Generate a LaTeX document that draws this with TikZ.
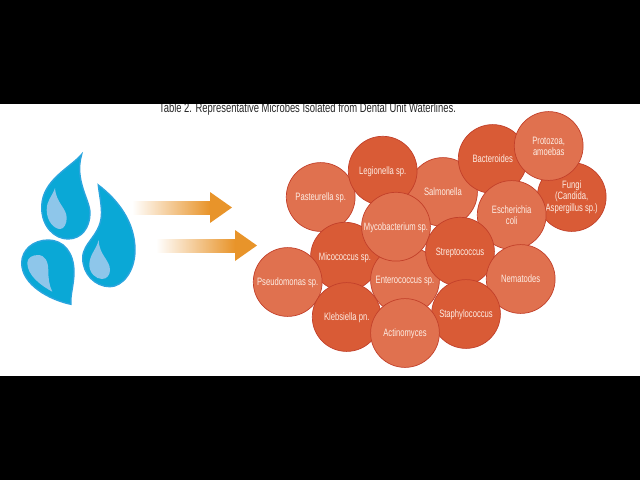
\documentclass[tikz,border=0pt]{standalone}
\usepackage{fontspec}
\setmainfont[FakeStretch=0.714]{Liberation Sans}
\usepackage{tikz}
\definecolor{darkred}{HTML}{D95B36}
\definecolor{lightred}{HTML}{E0714F}
\definecolor{edgered}{HTML}{C2402A}
\definecolor{dropblue}{HTML}{0AA8D6}
\definecolor{droprim}{HTML}{2AA5DE}
\definecolor{shineblue}{HTML}{8EC6EA}
\definecolor{flowc}{HTML}{E8942A}
\definecolor{labelc}{HTML}{FDEDE4}
\tikzset{
  microbe/.style={draw=edgered, circle, minimum size=1.72cm, inner sep=0pt, line width=0.5pt, text=labelc, align=center, text height=5.5pt, text depth=0pt, font=\fontsize{7.6}{8}\selectfont},
  darkbug/.style={microbe, fill=darkred},
  lightbug/.style={microbe, fill=lightred},
  manyline/.style={text height=, text depth=},
  dropbody/.style={fill=dropblue, draw=droprim, line width=1pt},
  dropshine/.style={fill=shineblue},
  flowshaft/.style={left color=white, right color=flowc, draw=none},
  flowhead/.style={fill=flowc},
}

\begin{document}
\begin{tikzpicture}[x=0.025cm, y=-0.025cm]
  \useasboundingbox (0,0) rectangle (640,480);
  \node[font=\fontsize{9.4}{12}\selectfont, text=black!85] (title) at (307.5,109.5) {Table 2. Representative Microbes Isolated from Dental Unit Waterlines.};
  \fill[black] (0,0) rectangle (640,104);
  \fill[black] (0,376) rectangle (640,480);

  % drops
  \path[dropbody] (81.7,154.3) .. controls (70,168) and (42,180) .. (41.7,207) .. controls (41.5,227) and (55,239) .. (68,239) .. controls (82,239) and (90,227) .. (90,213) .. controls (90,200) and (74,180) .. (81.7,154.3) -- cycle;
  \path[dropbody] (98.3,185) .. controls (118,200) and (135,222) .. (135,250) .. controls (135,272) and (122,286.7) .. (110,286.7) .. controls (95,286.7) and (82.7,274) .. (82.7,258) .. controls (82.7,242) and (102,235) .. (101.5,212) .. controls (101.3,203) and (99,192) .. (98.3,185) -- cycle;
  \path[dropbody] (71,304.3) .. controls (50,300) and (21.7,285) .. (21.7,263) .. controls (21.7,250) and (33,240) .. (48.3,240) .. controls (63,240) and (74,252) .. (74,272) .. controls (74,285) and (70,295) .. (71,304.3) -- cycle;
  \path[dropshine] (55,188) .. controls (52,197) and (46.7,200) .. (46.7,210) .. controls (46.7,221) and (54,229) .. (60,229) .. controls (64,229) and (66.7,224) .. (66.7,218) .. controls (66.7,208) and (56,203) .. (55,188) -- cycle;
  \path[dropshine] (98.7,240) .. controls (96,250) and (89.3,255) .. (89.3,265) .. controls (89.3,273) and (96,279) .. (102,279) .. controls (107,279) and (110,275) .. (110,270) .. controls (110,260) and (99,255) .. (98.7,240) -- cycle;
  \path[dropshine] (52.3,291.7) .. controls (40,285) and (27.3,275) .. (27.3,263) .. controls (27.3,258) and (32,255) .. (38,255) .. controls (45,255) and (48.3,262) .. (48.3,270) .. controls (48.3,278) and (49,285) .. (52.3,291.7) -- cycle;

  % arrows
  \path[flowshaft] (132,201.5) rectangle (210,214);
  \path[flowhead] (210,192) -- (232,207.5) -- (210,223) -- cycle;
  \path[flowshaft] (156,239) rectangle (235,252);
  \path[flowhead] (235,230) -- (257,245.5) -- (235,261) -- cycle;

  % microbes
  \node[lightbug] (past) at (320.7,197) {Pasteurella sp.};
  \node[lightbug] (salm) at (443,192) {Salmonella};
  \node[darkbug] (legi) at (382.7,170.7) {Legionella sp.};
  \node[darkbug] (bact) at (492.7,159) {Bacteroides};
  \node[darkbug, manyline] (fung) at (571.7,197) {Fungi\\(Candida,\\Aspergillus sp.)};
  \node[lightbug, manyline] (prot) at (548.7,146) {Protozoa,\\amoebas};
  \node[lightbug, manyline] (esch) at (511.7,215) {Escherichia\\coli};
  \node[darkbug] (mico) at (345,256.7) {Micococcus sp.};
  \node[lightbug] (pseu) at (287.7,282) {Pseudomonas sp.};
  \node[lightbug] (ente) at (405,280) {Enterococcus sp.};
  \node[lightbug] (myco) at (396,226.7) {Mycobacterium sp.};
  \node[darkbug] (stre) at (460,251.7) {Streptococcus};
  \node[lightbug] (nema) at (520.7,279) {Nematodes};
  \node[darkbug] (klebs) at (346.7,317) {Klebsiella pn.};
  \node[darkbug] (stap) at (466,314) {Staphylococcus};
  \node[lightbug] (acti) at (405,333) {Actinomyces};
\end{tikzpicture}
\end{document}
